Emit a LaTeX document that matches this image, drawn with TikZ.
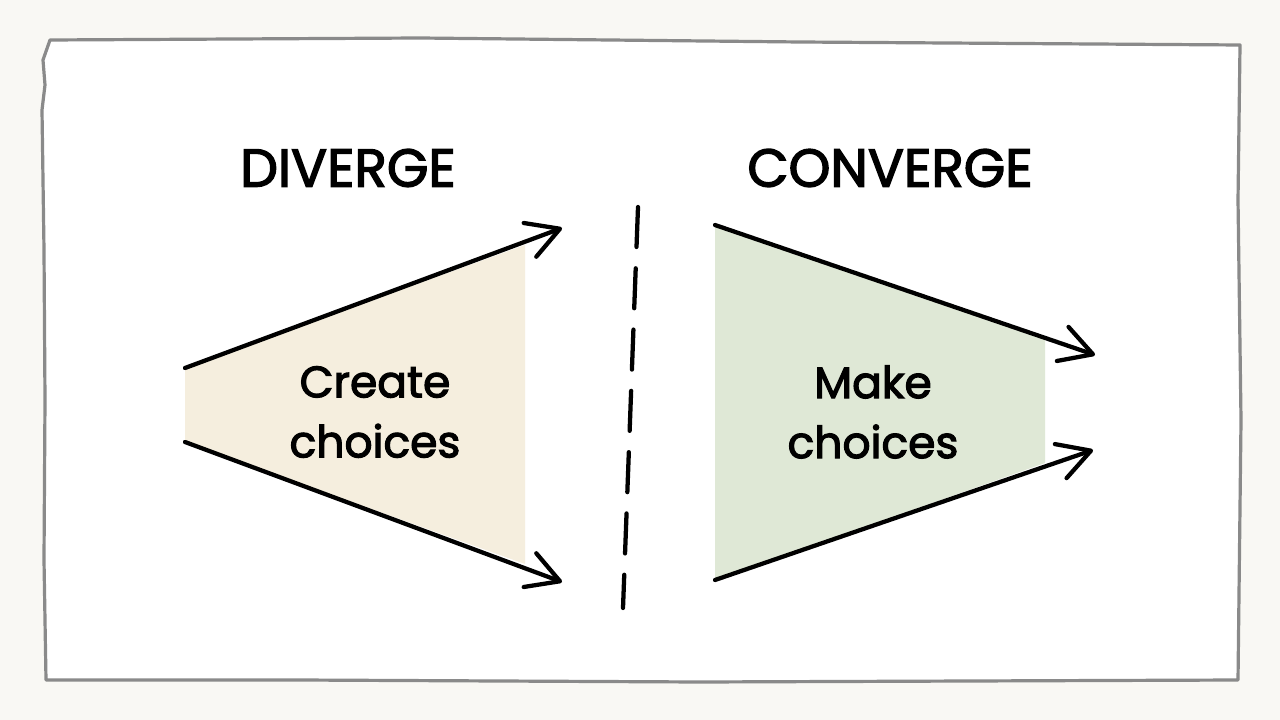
\documentclass[tikz,border=0pt]{standalone}
\usepackage{fontspec}
\setmainfont{Poppins}
\newfontfamily\inkfont{Poppins}[FakeBold=2.6]
\usetikzlibrary{arrows.meta}
\definecolor{paper}{HTML}{F9F8F4}
\definecolor{framegray}{HTML}{8A8A8A}
\definecolor{sand}{HTML}{F5EEDE}
\definecolor{sage}{HTML}{DFE8D6}

\tikzset{
    inkline/.style={line width=3.2pt, black, line cap=round, line join=round},
    heading/.style={font=\inkfont\fontsize{40}{44}\selectfont, inner sep=0pt},
    phase/.style={font=\inkfont\fontsize{33}{45}\selectfont, align=center, inner sep=0pt}
}

\begin{document}
\begin{tikzpicture}[
    x=0.75pt, y=-0.75pt,
    >={Straight Barb[length=24pt, width=27pt, line width=3.2pt, round]}
]

% Papier
\fill[paper] (0,0) rectangle (1280,720);
\useasboundingbox (0,0) rectangle (1280,720);

% Marc
\draw[
    framegray,
    line width=2.4pt,
    line join=round,
    fill=white
] (50,40) -- (420,38) -- (800,42) -- (1240,45)
    -- (1238,200) -- (1241,420) -- (1238,680)
    -- (700,682) -- (300,680) -- (46,680)
    -- (44,560) -- (45,400) -- (44,250) -- (42,110)
    -- (45,85) -- (43,60) -- cycle;

% Punts de la divergencia
\coordinate (dlt) at (185,368);
\coordinate (dlb) at (185,442);
\coordinate (drt) at (562,228);
\coordinate (drb) at (562,582);

% Punts de la convergencia
\coordinate (clt) at (715,225);
\coordinate (clb) at (715,580);
\coordinate (crt) at (1095,355);
\coordinate (crb) at (1093,450);

% Zona divergent
\fill[sand] (dlt) -- (525,245) -- (525,564) -- (dlb) -- cycle;

% Zona convergent
\fill[sage] (clt) -- (1045,338) -- (1045,463) -- (clb) -- cycle;

% Fletxes divergents
\draw[->, inkline] (dlt) -- (drt);
\draw[->, inkline] (dlb) -- (drb);

% Fletxes convergents
\draw[->, inkline] (clt) -- (crt);
\draw[->, inkline] (clb) -- (crb);

% Separador
\coordinate (septop) at (638,207);
\coordinate (sepbot) at (623,608);
\draw[
    inkline,
    dash pattern=on 30pt off 16pt
] (septop) -- (sepbot);

% Titols
\node[heading] (divtitle) at (348,168) {DIVERGE};
\node[heading] (contitle) at (890,168) {CONVERGE};

% Etiquetes
\node[phase] (create) at (375,412) {Create\\choices};
\node[phase] (make) at (873,412) {Make\\choices};

\end{tikzpicture}
\end{document}
